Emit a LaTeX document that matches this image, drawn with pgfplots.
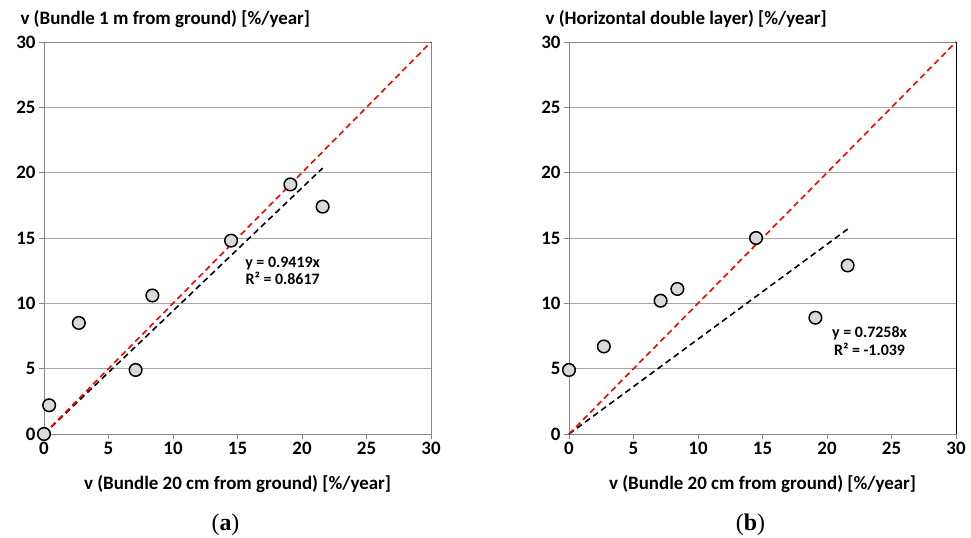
\documentclass[border=0pt]{standalone}
\usepackage{fontspec}
\setmainfont{Carlito}
\newfontfamily\capfont{Liberation Serif}
\usepackage{pgfplots}
\pgfplotsset{compat=1.18}
\definecolor{ptfill}{RGB}{217,217,217}
\definecolor{axgray}{RGB}{134,134,134}
\definecolor{gridgray}{RGB}{165,165,165}
\definecolor{xlred}{RGB}{255,0,0}

\pgfplotsset{
  panel/.style={
    scale only axis, width=387bp, height=392bp,
    xmin=0, xmax=30, ymin=0, ymax=30,
    xtick={0,5,...,30}, ytick={0,5,...,30},
    tick align=outside, xtick pos=bottom, ytick pos=left,
    major tick length=5bp,
    tick style={axgray, line width=0.8bp},
    axis line style={axgray, line width=0.8bp},
    ymajorgrids, grid style={gridgray, line width=0.8bp},
    ticklabel style={font=\fontsize{19}{21}\selectfont\bfseries},
    /pgf/number format/assume math mode=true,
    xlabel style={at={(rel axis cs:0.5,0)}, anchor=base, yshift=-55bp,
      font=\fontsize{19}{21}\selectfont\bfseries},
    clip=false,
  },
  pts/.style={only marks, mark=*, mark size=6.3bp,
    mark options={fill=ptfill, draw=black, line width=1.5bp}},
  trend/.style={black, line width=1.6bp, dash pattern=on 6bp off 4bp},
  oneone/.style={xlred, line width=1.6bp, dash pattern=on 6bp off 4bp},
}

\begin{document}
\begin{tikzpicture}
\useasboundingbox (-44bp,-104bp) rectangle (927bp,434bp);

% (a)
\begin{axis}[panel, at={(0,0)}, anchor=origin,
  xlabel={v (Bundle 20 cm from ground) [\%/year]}]
\addplot[pts] coordinates {
  (0,0) (0.4,2.2) (2.7,8.5) (7.1,4.9) (8.4,10.6) (14.5,14.8) (19.1,19.1) (21.6,17.4)
};
\addplot[trend] coordinates {(0,0) (21.6,20.35)};
\addplot[oneone] coordinates {(0,0) (30,30)};
\node[font=\fontsize{16}{17.5}\selectfont\bfseries, align=center]
  at (axis cs:18.5,12.5) {y = 0.9419x\\R² = 0.8617};
\node[font=\fontsize{19}{21}\selectfont\bfseries, anchor=base west]
  at (rel axis cs:0,1) [xshift=-27bp, yshift=18bp] {v (Bundle 1 m from ground) [\%/year]};
\node[font=\fontsize{24}{26}\selectfont\capfont, anchor=base]
  at (rel axis cs:0.5,0) [xshift=-12bp, yshift=-96bp] {(\textbf{a})};
\end{axis}

% (b)
\begin{axis}[panel, at={(525bp,0)}, anchor=origin,
  xlabel={v (Bundle 20 cm from ground) [\%/year]}]
\addplot[pts] coordinates {
  (0,4.9) (2.7,6.7) (7.1,10.2) (8.4,11.1) (14.5,15.0) (19.1,8.9) (21.6,12.9)
};
\addplot[trend] coordinates {(0,0) (21.6,15.68)};
\addplot[oneone] coordinates {(0,0) (30,30)};
\draw[black, line width=0.8bp] (rel axis cs:1,0) -- (rel axis cs:1,1);
\node[font=\fontsize{16}{17.5}\selectfont\bfseries, align=center]
  at (axis cs:23.3,7.1) {y = 0.7258x\\R² = -1.039};
\node[font=\fontsize{19}{21}\selectfont\bfseries, anchor=base west]
  at (rel axis cs:0,1) [xshift=-27bp, yshift=18bp] {v (Horizontal double layer) [\%/year]};
\node[font=\fontsize{24}{26}\selectfont\capfont, anchor=base]
  at (rel axis cs:0.5,0) [xshift=-12bp, yshift=-96bp] {(\textbf{b})};
\end{axis}
\end{tikzpicture}
\end{document}
